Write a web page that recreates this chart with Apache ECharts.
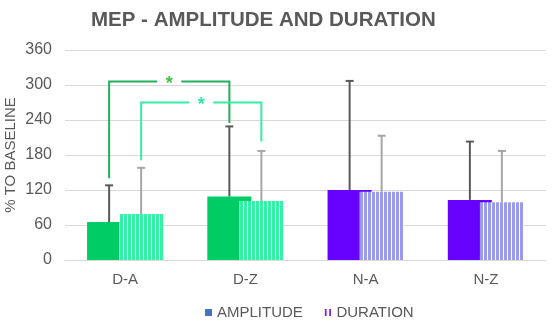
<!DOCTYPE html>
<html style="height: 100%">
<head>
    <meta charset="utf-8">
    <script src="https://cdn.jsdelivr.net/npm/echarts@6/dist/echarts.min.js"></script>
</head>
<body style="height: 100%; margin: 0">
    <div id="main" style="width: 554px; height: 328px"></div>
    <script type="text/javascript">
        // data
        var categories = ['D-A', 'D-Z', 'N-A', 'N-Z'];
        var amplitude = [65, 109, 120, 103];
        var amplitudeErr = [128, 229, 307, 203];   // top of error bar
        var duration = [79, 101, 117, 99];
        var durationErr = [158, 187, 213, 187];
        var yTicks = [0, 60, 120, 180, 240, 300, 360];

        // significance brackets: from category -> to category, on series (0 amp, 1 dur)
        var sigFrom = [0, 0];
        var sigTo = [1, 1];
        var sigSeries = [0, 1];
        var sigStartValue = [140, 171];
        var sigEndValue = [235, 203];
        var sigTopValue = [306, 270];
        var sigLabel = ['*', '*'];

        // styles
        var ampColors = { D: '#00cc66', N: '#6600ff' };
        var durColors = { D: '#33f2a4', N: '#9b9bec' };
        var bracketColors = ['#22b05c', '#35eea4'];
        var starColors = ['#3cc43c', '#30e6a4'];
        var BAR_W = 44;
        var BAR_OFF = 16;   // center offset of each bar within the group

        function stripes(color) {
            var c = document.createElement('canvas');
            c.width = 4; c.height = 4;
            var ctx = c.getContext('2d');
            ctx.fillStyle = color;
            ctx.fillRect(0, 0, 4, 4);
            ctx.fillStyle = '#ffffff';
            ctx.fillRect(3, 0, 1, 4);
            return { image: c, repeat: 'repeat' };
        }

        var myChart = echarts.init(document.getElementById('main'));

        function errorSeries(vals, errs, offset, color) {
            return {
                type: 'custom',
                z: 5,
                clip: false,
                data: vals.map(function (v, i) { return [i, v, errs[i]]; }),
                renderItem: function (params, api) {
                    var p0 = api.coord([api.value(0), api.value(1)]);
                    var p1 = api.coord([api.value(0), api.value(2)]);
                    var x = p0[0] + offset;
                    var st = { stroke: color, lineWidth: 2 };
                    return {
                        type: 'group',
                        children: [
                            { type: 'line', shape: { x1: x, y1: p0[1], x2: x, y2: p1[1] }, style: st },
                            { type: 'line', shape: { x1: x - 4, y1: p1[1], x2: x + 4, y2: p1[1] }, style: st }
                        ]
                    };
                }
            };
        }

        var option = {
            animation: false,
            title: {
                text: 'MEP - AMPLITUDE AND DURATION',
                left: 86,
                top: 5,
                textStyle: { fontFamily: 'Liberation Sans', fontSize: 20.5, fontWeight: 'bold', color: '#595959' }
            },
            legend: {
                left: 200,
                top: 300,
                itemWidth: 7,
                itemHeight: 7,
                itemGap: 22,
                textStyle: { fontFamily: 'Liberation Sans', fontSize: 15, color: '#595959' },
                data: [
                    { name: 'AMPLITUDE', icon: 'rect' },
                    { name: 'DURATION', icon: 'path://M0,0h2v8h-2zM5,0h2v8h-2z', itemStyle: { color: '#7a1ff0' } }
                ]
            },
            grid: { left: 65, right: 8, top: 50, bottom: 68, containLabel: false, outerBoundsMode: 'none' },
            xAxis: {
                type: 'category',
                data: categories,
                axisLine: { lineStyle: { color: '#d9d9d9' } },
                axisTick: { show: false },
                axisLabel: { margin: 12, fontFamily: 'Liberation Sans', fontSize: 15, color: '#595959' }
            },
            yAxis: {
                type: 'value',
                min: yTicks[0],
                max: yTicks[yTicks.length - 1],
                interval: yTicks[1] - yTicks[0],
                name: '% TO BASELINE',
                nameLocation: 'middle',
                nameRotate: 90,
                nameGap: 47,
                nameMoveOverlap: false,
                nameTextStyle: { fontFamily: 'Liberation Sans', fontSize: 15, color: '#595959' },
                axisLine: { show: false },
                axisTick: { show: false },
                splitLine: { lineStyle: { color: '#d9d9d9' } },
                axisLabel: { margin: 13, fontFamily: 'Liberation Sans', fontSize: 16, color: '#595959' }
            },
            series: [
                {
                    name: 'AMPLITUDE',
                    type: 'bar',
                    barWidth: BAR_W,
                    barGap: '-27%',
                    itemStyle: { color: '#4472c4' },
                    data: amplitude.map(function (v, i) {
                        return { value: v, itemStyle: { color: ampColors[categories[i][0]] } };
                    })
                },
                {
                    name: 'DURATION',
                    type: 'bar',
                    barWidth: BAR_W,
                    barGap: '-27%',
                    itemStyle: { color: '#7a1ff0' },
                    data: duration.map(function (v, i) {
                        return { value: v, itemStyle: { color: stripes(durColors[categories[i][0]]) } };
                    })
                },
                errorSeries(amplitude, amplitudeErr, -BAR_OFF, '#595959'),
                errorSeries(duration, durationErr, BAR_OFF, '#a6a6a6'),
                {
                    type: 'custom',
                    z: 6,
                    clip: false,
                    data: sigFrom.map(function (f, i) {
                        return [f, sigStartValue[i], sigTo[i], sigEndValue[i], sigTopValue[i], i];
                    }),
                    renderItem: function (params, api) {
                        var k = api.value(5);
                        var off = sigSeries[k] === 0 ? -BAR_OFF : BAR_OFF;
                        var a = api.coord([api.value(0), api.value(1)]);
                        var b = api.coord([api.value(2), api.value(3)]);
                        var t = api.coord([api.value(0), api.value(4)]);
                        var x0 = a[0] + off, x1 = b[0] + off, yt = t[1];
                        var mid = (x0 + x1) / 2, gap = 12;
                        var st = { stroke: bracketColors[k], lineWidth: 2, fill: null };
                        return {
                            type: 'group',
                            children: [
                                { type: 'polyline', shape: { points: [[x0, a[1]], [x0, yt], [mid - gap, yt]] }, style: st },
                                { type: 'polyline', shape: { points: [[mid + gap, yt], [x1, yt], [x1, b[1]]] }, style: st },
                                {
                                    type: 'text',
                                    style: {
                                        text: sigLabel[k], x: mid, y: yt + 3,
                                        align: 'center', verticalAlign: 'middle',
                                        fill: starColors[k],
                                        font: 'bold 18px "Liberation Sans"'
                                    }
                                }
                            ]
                        };
                    }
                }
            ]
        };

        myChart.setOption(option);
    </script>
</body>
</html>
